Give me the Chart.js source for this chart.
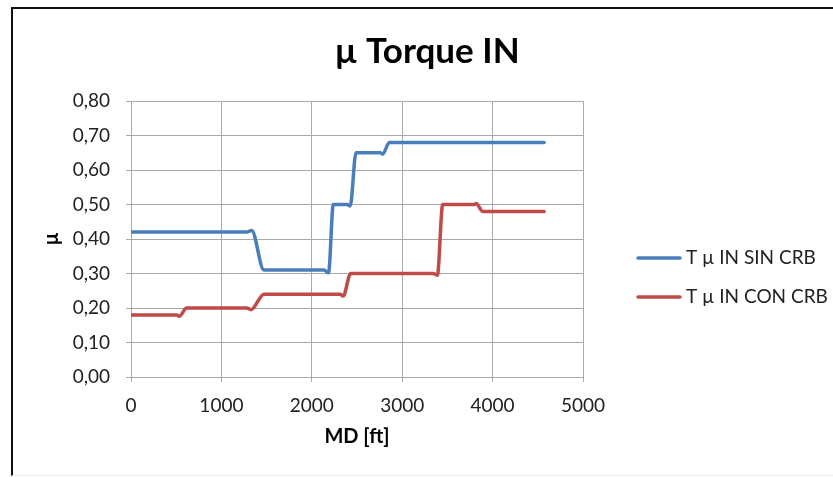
<!DOCTYPE html>
<html>
<head>
<meta charset="utf-8">
<script src="https://cdn.jsdelivr.net/npm/chart.js@4.4.1/dist/chart.umd.min.js"></script>
<style>
  html, body { margin: 0; padding: 0; background: #fff; }
  #wrap { position: relative; width: 833px; height: 477px; overflow: hidden; }
  #frame {
    position: absolute; left: 11px; top: 7px; width: 900px; height: 466px;
    border-left: 2px solid #111; border-top: 2px solid #111;
    border-bottom: 1px solid #ececec;
  }
  canvas { position: absolute; left: 0; top: 0; }
</style>
</head>
<body>
<div id="wrap">
  <div id="frame"></div>
  <canvas id="c" width="833" height="477"></canvas>
</div>
<script>
// Chart text
const chartTitle = 'µ Torque IN';
const xAxisTitle = 'MD [ft]';
const yAxisTitle = 'µ';
const seriesNames = ['T µ IN SIN CRB', 'T µ IN CON CRB'];

// Tick labels
const xTickValues = [0, 1000, 2000, 3000, 4000, 5000];
const yTickLabels = ['0,00', '0,10', '0,20', '0,30', '0,40', '0,50', '0,60', '0,70', '0,80'];

// Measured depth (ft) and friction factor, without CRB
const sinDepth = [0, 1280, 1335, 1470, 2135, 2185, 2238, 2390, 2425, 2489, 2755, 2785, 2857, 4570];
const sinMu    = [0.42, 0.42, 0.425, 0.31, 0.31, 0.302, 0.50, 0.50, 0.496, 0.65, 0.65, 0.646, 0.68, 0.68];

// Measured depth (ft) and friction factor, with CRB
const conDepth = [0, 505, 534, 616, 1280, 1327, 1471, 2312, 2348, 2430, 3344, 3389, 3448, 3798, 3818, 3890, 4570];
const conMu    = [0.18, 0.18, 0.176, 0.20, 0.20, 0.195, 0.24, 0.24, 0.235, 0.30, 0.30, 0.295, 0.50, 0.50, 0.503, 0.48, 0.48];

const toPoints = (xs, ys) => xs.map((x, i) => ({ x: x, y: ys[i] }));

const FONT = 'Lato';
const TEXT = '#222';
const GRID = '#a9a9a9';

// Title centred over the whole figure
const titlePlugin = {
  id: 'figTitle',
  afterDraw(chart) {
    const ctx = chart.ctx;
    ctx.save();
    ctx.font = 'bold 35px ' + FONT;
    ctx.fillStyle = '#000';
    ctx.textAlign = 'center';
    ctx.textBaseline = 'alphabetic';
    ctx.fillText(chartTitle, 427, 63);
    ctx.restore();
  }
};

// Legend to the right of the plot
const legendPlugin = {
  id: 'sideLegend',
  afterDraw(chart) {
    const ctx = chart.ctx;
    ctx.save();
    ctx.font = '19px ' + FONT;
    ctx.textBaseline = 'middle';
    ctx.textAlign = 'left';
    chart.data.datasets.forEach((ds, i) => {
      const y = 258 + i * 39;
      ctx.strokeStyle = ds.borderColor;
      ctx.lineWidth = 3.5;
      ctx.lineCap = 'round';
      ctx.beginPath();
      ctx.moveTo(638, y);
      ctx.lineTo(680, y);
      ctx.stroke();
      ctx.fillStyle = TEXT;
      ctx.fillText(ds.label, 686, y);
    });
    ctx.restore();
  }
};

new Chart(document.getElementById('c'), {
  type: 'line',
  data: {
    datasets: [
      {
        label: seriesNames[0],
        data: toPoints(sinDepth, sinMu),
        borderColor: '#4a7ebb',
        borderWidth: 3.5,
        borderCapStyle: 'round',
        borderJoinStyle: 'round',
        pointRadius: 0,
        cubicInterpolationMode: 'monotone',
        fill: false
      },
      {
        label: seriesNames[1],
        data: toPoints(conDepth, conMu),
        borderColor: '#be4b48',
        borderWidth: 3.5,
        borderCapStyle: 'round',
        borderJoinStyle: 'round',
        pointRadius: 0,
        cubicInterpolationMode: 'monotone',
        fill: false
      }
    ]
  },
  options: {
    responsive: false,
    animation: false,
    devicePixelRatio: 1,
    layout: { padding: { left: 0, top: 101, right: 250, bottom: 0 } },
    plugins: {
      legend: { display: false },
      title: { display: false },
      tooltip: { enabled: false }
    },
    scales: {
      x: {
        type: 'linear',
        min: 0,
        max: 5000,
        afterFit(scale) { scale.height = 100; },
        afterBuildTicks(scale) { scale.ticks = xTickValues.map(v => ({ value: v })); },
        grid: { color: GRID, lineWidth: 1, tickLength: 5, drawTicks: true },
        border: { color: GRID, width: 1 },
        ticks: {
          color: TEXT,
          font: { family: FONT, size: 19 },
          padding: 12,
          maxRotation: 0,
          callback: v => String(v)
        },
        title: {
          display: true,
          text: xAxisTitle,
          color: '#000',
          font: { family: FONT, size: 20, weight: 'bold' },
          padding: { top: 0, bottom: 28 }
        }
      },
      y: {
        type: 'linear',
        min: 0,
        max: 0.8,
        afterFit(scale) { scale.width = 131; },
        afterBuildTicks(scale) { scale.ticks = yTickLabels.map((_, i) => ({ value: i / 10 })); },
        grid: { color: GRID, lineWidth: 1, tickLength: 5, drawTicks: true },
        border: { color: GRID, width: 1 },
        ticks: {
          color: TEXT,
          font: { family: FONT, size: 19 },
          padding: 16,
          callback: (v, i) => yTickLabels[i]
        },
        title: {
          display: true,
          text: yAxisTitle,
          color: '#000',
          font: { family: FONT, size: 20, weight: 'bold' },
          padding: { top: 40, bottom: 0 }
        }
      }
    }
  },
  plugins: [titlePlugin, legendPlugin]
});
</script>
</body>
</html>
